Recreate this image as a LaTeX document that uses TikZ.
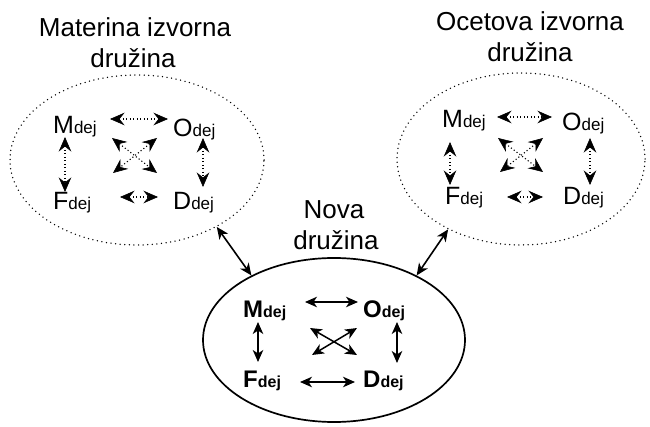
\documentclass[tikz,border=0pt]{standalone}
\usepackage{fontspec}
\setmainfont{Liberation Sans}
\usetikzlibrary{arrows.meta,shapes.geometric,calc}

% member label: capital letter with a smaller "dej" on the same baseline
\newcommand\famlbl[2]{{\fontsize{25}{25}\selectfont #1}{\fontsize{17}{17}\selectfont #2}}
\newcommand\famblbl[2]{{\bfseries\fontsize{24}{24}\selectfont #1}{\bfseries\fontsize{16}{16}\selectfont #2}}

\begin{document}
\begin{tikzpicture}[x=1pt,y=-1pt,
  member/.style={inner sep=0pt, anchor=base west},
  title/.style={inner sep=0pt, anchor=base, font=\fontsize{26}{31}\selectfont},
  origin family/.style={ellipse, draw, inner sep=0pt, line width=1.5pt,
    line cap=round, dash pattern=on 0pt off 4.6pt},
  new family/.style={ellipse, draw, inner sep=0pt, line width=1.7pt},
  dotlink/.style={line width=1.1pt, dash pattern=on 1.1pt off 2.4pt,
    >={Stealth[length=14.5pt,width=12.5pt,inset=5pt,line width=0.6pt]}, <->},
  link/.style={line width=1.5pt,
    >={Stealth[length=12pt,width=10.5pt,inset=3.5pt]}, <->}
]
\useasboundingbox (0,0) rectangle (650,427);

% family outlines
\node[origin family, minimum width=254pt, minimum height=170pt] (lfam) at (137,160) {};
\node[origin family, minimum width=248pt, minimum height=172pt] (rfam) at (521,159) {};
\node[new family, minimum width=262pt, minimum height=164pt] (nfam) at (334,340) {};

% titles
\node[title] (lt1) at (135,37) {Materina izvorna};
\node[title] (lt2) at (133,68) {družina};
\node[title] (rt1) at (530,31) {Ocetova izvorna};
\node[title] (rt2) at (530,62) {družina};
\node[title] (nt1) at (334,219) {Nova};
\node[title] (nt2) at (336,250) {družina};

% mother's family of origin
\node[member] (lM) at (53,134) {\famlbl{M}{dej}};
\node[member] (lO) at (173,137) {\famlbl{O}{dej}};
\node[member] (lF) at (53,210) {\famlbl{F}{dej}};
\node[member] (lD) at (173,210) {\famlbl{D}{dej}};
\draw[dotlink] ($(lM.base west)+(57,-15)$) -- ($(lO.base west)+(-5,-18)$);
\draw[dotlink] ($(lF.base west)+(67,-13)$) -- ($(lD.base west)+(-15,-13)$);
\draw[dotlink] ($(lM.base west)+(12,3)$) -- ($(lF.base west)+(12,-18)$);
\draw[dotlink] ($(lO.base west)+(30,1)$) -- ($(lD.base west)+(30,-23)$);
\draw[dotlink] ($(lM.base west)+(59,4)$) -- ($(lD.base west)+(-16,-37)$);
\draw[dotlink] ($(lO.base west)+(-16,1)$) -- ($(lF.base west)+(60,-37)$);

% father's family of origin
\node[member] (rM) at (442,128) {\famlbl{M}{dej}};
\node[member] (rO) at (562,131) {\famlbl{O}{dej}};
\node[member] (rF) at (445,205) {\famlbl{F}{dej}};
\node[member] (rD) at (563,205) {\famlbl{D}{dej}};
\draw[dotlink] ($(rM.base west)+(55,-11)$) -- ($(rO.base west)+(-10,-14)$);
\draw[dotlink] ($(rF.base west)+(62,-8)$) -- ($(rD.base west)+(-20,-8)$);
\draw[dotlink] ($(rM.base west)+(8,14)$) -- ($(rF.base west)+(5,-20)$);
\draw[dotlink] ($(rO.base west)+(28,7)$) -- ($(rD.base west)+(27,-20)$);
\draw[dotlink] ($(rM.base west)+(56,10)$) -- ($(rD.base west)+(-20,-33)$);
\draw[dotlink] ($(rO.base west)+(-19,7)$) -- ($(rF.base west)+(55,-33)$);

% new family
\node[member] (nM) at (243,317) {\famblbl{M}{dej}};
\node[member] (nO) at (363,317) {\famblbl{O}{dej}};
\node[member] (nF) at (243,387) {\famblbl{F}{dej}};
\node[member] (nD) at (363,387) {\famblbl{D}{dej}};
\draw[link] ($(nM.base west)+(62,-15)$) -- ($(nO.base west)+(-5,-15)$);
\draw[link] ($(nF.base west)+(57,-5)$) -- ($(nD.base west)+(-8,-5)$);
\draw[link] ($(nM.base west)+(15,5)$) -- ($(nF.base west)+(15,-25)$);
\draw[link] ($(nO.base west)+(34,5)$) -- ($(nD.base west)+(34,-24)$);
\draw[link] ($(nM.base west)+(67,11)$) -- ($(nD.base west)+(-6,-32)$);
\draw[link] ($(nO.base west)+(-6,11)$) -- ($(nF.base west)+(69,-32)$);

% links between the families
\draw[link, line width=1.6pt] (lfam.-40) -- (nfam.142);
\draw[link, line width=1.6pt] (rfam.-136) -- (nfam.38);
\end{tikzpicture}
\end{document}
